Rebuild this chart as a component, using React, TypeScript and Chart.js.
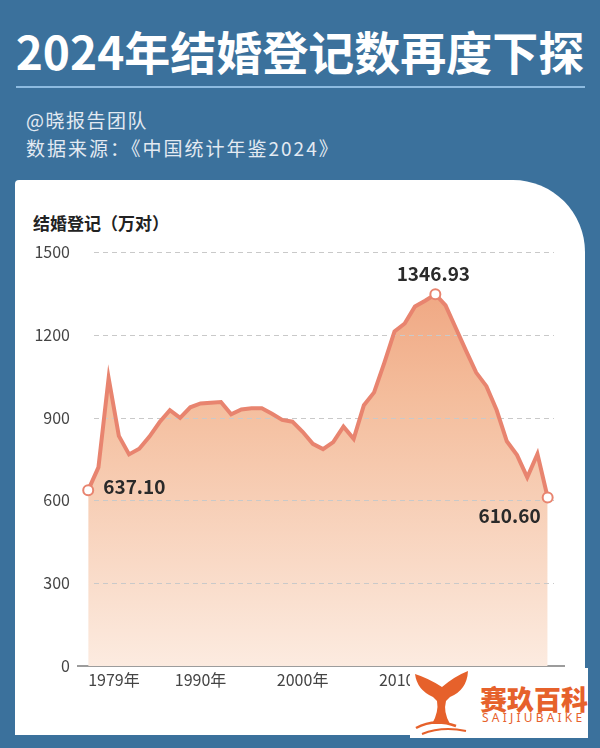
import React, { useEffect, useRef } from "react";
import { Chart, registerables } from "chart.js";

Chart.register(...registerables);

const years: number[] = [
  1979, 1980, 1981, 1982, 1983, 1984, 1985, 1986, 1987, 1988, 1989, 1990,
  1991, 1992, 1993, 1994, 1995, 1996, 1997, 1998, 1999, 2000, 2001, 2002,
  2003, 2004, 2005, 2006, 2007, 2008, 2009, 2010, 2011, 2012, 2013, 2014,
  2015, 2016, 2017, 2018, 2019, 2020, 2021, 2022, 2023, 2024,
];
const marriages: number[] = [
  637.1, 719.7, 1043.3, 833.7, 766.7, 787.1, 831.2, 884.1, 926.6, 899.2,
  937.2, 951.1, 953.7, 956.4, 912.1, 929.3, 934.1, 934.0, 914.1, 891.7,
  885.3, 848.5, 805.0, 786.0, 811.4, 867.2, 823.1, 945.0, 991.4, 1098.3,
  1212.4, 1241.0, 1302.4, 1323.6, 1346.93, 1306.7, 1224.7, 1142.8, 1063.1,
  1013.9, 927.3, 814.3, 764.3, 683.5, 768.2, 610.6,
];
const xTickYears: number[] = [1979, 1990, 2000, 2010, 2020];
const yTicks: number[] = [0, 300, 600, 900, 1200, 1500];
const highlighted: number[] = [0, 34, 45];
const highlightLabels: string[] = ["637.10", "1346.93", "610.60"];

const FONT = '"Noto Sans CJK SC", "Noto Sans", sans-serif';
const LINE = "#e8846f";

export default function App() {
  const ref = useRef<HTMLCanvasElement | null>(null);

  useEffect(() => {
    document.body.style.margin = "0";
    const canvas = ref.current;
    if (!canvas) return;

    const gridPlugin = {
      id: "dashGrid",
      beforeDatasetDraw(chart: any) {
        const { ctx, chartArea, scales } = chart;
        ctx.save();
        ctx.strokeStyle = "#c9c9c9";
        ctx.lineWidth = 1;
        ctx.setLineDash([5, 4]);
        yTicks.forEach((v) => {
          if (v === 0) return;
          const y = Math.round(scales.y.getPixelForValue(v)) + 0.5;
          ctx.beginPath();
          ctx.moveTo(chartArea.left + 16, y);
          ctx.lineTo(chartArea.right - 10, y);
          ctx.stroke();
        });
        ctx.restore();
      },
    };

    const labelPlugin = {
      id: "pointLabels",
      afterDatasetsDraw(chart: any) {
        const { ctx } = chart;
        const meta = chart.getDatasetMeta(0);
        ctx.save();
        ctx.fillStyle = "#2a2a2a";
        ctx.font = `bold 19px ${FONT}`;
        ctx.textBaseline = "middle";
        highlighted.forEach((idx, k) => {
          const pt = meta.data[idx];
          if (!pt) return;
          const text = highlightLabels[k];
          if (k === 0) {
            ctx.textAlign = "left";
            ctx.fillText(text, pt.x + 15, pt.y - 3);
          } else if (k === 1) {
            ctx.textAlign = "center";
            ctx.fillText(text, pt.x - 2, pt.y - 20);
          } else {
            ctx.textAlign = "right";
            ctx.fillText(text, pt.x - 7, pt.y + 18);
          }
        });
        ctx.restore();
      },
    };

    const chart = new Chart(canvas, {
      type: "line",
      data: {
        datasets: [
          {
            data: years.map((y, i) => ({ x: y, y: marriages[i] })),
            borderColor: LINE,
            borderWidth: 4,
            tension: 0,
            fill: "origin",
            backgroundColor: (c: any) => {
              const area = c.chart.chartArea;
              if (!area) return "#f6c7aa";
              const g = c.chart.ctx.createLinearGradient(0, area.top, 0, area.bottom);
              g.addColorStop(0, "#eea07a");
              g.addColorStop(0.35, "#f4bd9c");
              g.addColorStop(1, "#fcebe0");
              return g;
            },
            pointRadius: (c: any) => (highlighted.includes(c.dataIndex) ? 5 : 0),
            pointBackgroundColor: "#ffffff",
            pointBorderColor: LINE,
            pointBorderWidth: 2,
            pointHoverRadius: 0,
          },
        ],
      },
      options: {
        responsive: false,
        animation: false,
        devicePixelRatio: 1,
        events: [],
        layout: { padding: { top: 252, left: 0, right: 36, bottom: 0 } },
        plugins: {
          legend: { display: false },
          tooltip: { enabled: false },
        },
        scales: {
          x: {
            type: "linear",
            min: 1978,
            max: 2025.6,
            grid: { display: false, drawTicks: false },
            border: { display: true, color: "#9c9c9c", width: 2 },
            afterBuildTicks: (scale: any) => {
              scale.ticks = xTickYears.map((v) => ({ value: v }));
            },
            afterFit: (scale: any) => {
              scale.height = 82;
            },
            ticks: {
              align: "inner",
              autoSkip: false,
              maxRotation: 0,
              padding: 4,
              color: "#444444",
              font: { family: FONT, size: 16 },
              callback: (v: any) => `${v}年`,
            },
          },
          y: {
            min: 0,
            max: 1500,
            grid: { display: false, drawTicks: false },
            border: { display: false },
            afterBuildTicks: (scale: any) => {
              scale.ticks = yTicks.map((v) => ({ value: v }));
            },
            afterFit: (scale: any) => {
              scale.width = 78;
            },
            ticks: {
              padding: 8,
              color: "#444444",
              font: { family: FONT, size: 16 },
              callback: (v: any) => String(v),
            },
          },
        },
      },
      plugins: [gridPlugin, labelPlugin],
    } as any);

    return () => chart.destroy();
  }, []);

  return (
    <div
      style={{
        position: "absolute",
        left: 0,
        top: 0,
        width: 600,
        height: 748,
        background: "#3b719c",
        overflow: "hidden",
        fontFamily: FONT,
      }}
    >
      <div
        style={{
          position: "absolute",
          left: 0,
          top: 25,
          width: 600,
          height: 50,
          lineHeight: "50px",
          textAlign: "center",
          color: "#ffffff",
          fontSize: 46,
          fontWeight: 700,
          whiteSpace: "nowrap",
        }}
      >
        2024年结婚登记数再度下探
      </div>
      <div
        style={{
          position: "absolute",
          left: 16,
          top: 86,
          width: 569,
          height: 2,
          background: "#8dbbe0",
        }}
      />
      <div
        style={{
          position: "absolute",
          left: 26,
          top: 106,
          fontSize: 19,
          lineHeight: "28px",
          color: "#e3eaf2",
          letterSpacing: 1.5,
          whiteSpace: "nowrap",
        }}
      >
        @晓报告团队
      </div>
      <div
        style={{
          position: "absolute",
          left: 26,
          top: 134,
          fontSize: 19,
          lineHeight: "28px",
          color: "#e3eaf2",
          letterSpacing: 2,
          whiteSpace: "nowrap",
        }}
      >
        数据来源：《中国统计年鉴2024》
      </div>
      <div
        style={{
          position: "absolute",
          left: 15,
          top: 180,
          width: 570,
          height: 555,
          background: "#ffffff",
          borderTopRightRadius: 72,
          borderTopLeftRadius: 4,
        }}
      />
      <div
        style={{
          position: "absolute",
          left: 33,
          top: 210,
          fontSize: 17,
          lineHeight: "26px",
          fontWeight: 600,
          color: "#222222",
          whiteSpace: "nowrap",
        }}
      >
        结婚登记（万对）
      </div>
      <canvas
        ref={ref}
        width={600}
        height={748}
        style={{ position: "absolute", left: 0, top: 0, width: 600, height: 748 }}
      />
      <div
        style={{
          position: "absolute",
          left: 410,
          top: 668,
          width: 178,
          height: 70,
          background: "#ffffff",
        }}
      >
        <svg
          width={64}
          height={70}
          viewBox="0 0 64 70"
          style={{ position: "absolute", left: 0, top: 0 }}
        >
          <path
            d="M5,6 Q18,10 32,19 Q45,8 58,3 Q57,22 40,29 L36,33 Q33,44 40,56 L22,56 Q29,44 27,33 L23,29 Q7,22 5,6 Z"
            fill="#e6612b"
          />
          <path d="M6,60 Q24,50 46,58" stroke="#e6612b" strokeWidth={2.5} fill="none" />
          <path d="M12,66 Q32,58 56,63" stroke="#e6612b" strokeWidth={2} fill="none" />
        </svg>
        <div
          style={{
            position: "absolute",
            left: 70,
            top: 15,
            fontSize: 27,
            lineHeight: "32px",
            fontWeight: 900,
            color: "#e6612b",
            whiteSpace: "nowrap",
          }}
        >
          赛玖百科
        </div>
        <div
          style={{
            position: "absolute",
            left: 72,
            top: 43,
            fontSize: 12,
            lineHeight: "14px",
            letterSpacing: 3.2,
            color: "#e6612b",
            whiteSpace: "nowrap",
            fontFamily: '"Noto Sans", sans-serif',
          }}
        >
          SAIJIUBAIKE
        </div>
      </div>
    </div>
  );
}
